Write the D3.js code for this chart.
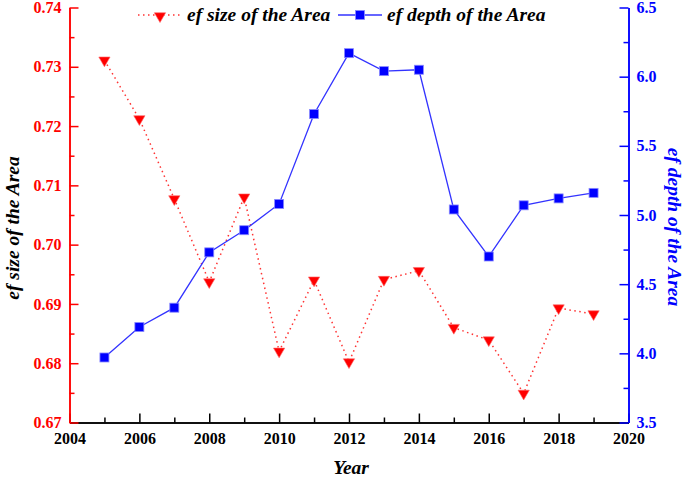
<!DOCTYPE html>
<html>
<head>
<meta charset="utf-8">
<script src="https://cdn.jsdelivr.net/npm/d3@7"></script>
<style>
  body { margin: 0; background: #fff; }
  svg text { font-family: "Liberation Serif", "Times New Roman", serif; font-weight: bold; }
</style>
</head>
<body>
<svg id="chart" width="685" height="478"></svg>
<script>
// data
var years = [2005, 2006, 2007, 2008, 2009, 2010, 2011, 2012, 2013, 2014, 2015, 2016, 2017, 2018, 2019];
var efSize = [0.7311, 0.7212, 0.7077, 0.6937, 0.7080, 0.6820, 0.6940, 0.6802, 0.6941, 0.6956, 0.6860, 0.6839, 0.6749, 0.6893, 0.6883];
var efDepth = [3.97, 4.19, 4.33, 4.73, 4.89, 5.08, 5.73, 6.17, 6.04, 6.05, 5.04, 4.70, 5.07, 5.12, 5.16];
var xTicks = [2004, 2006, 2008, 2010, 2012, 2014, 2016, 2018, 2020];
var leftTicks = [0.67, 0.68, 0.69, 0.70, 0.71, 0.72, 0.73, 0.74];
var rightTicks = [3.5, 4.0, 4.5, 5.0, 5.5, 6.0, 6.5];

var svg = d3.select('#chart');
// plot box edges (note: "top" is taken by window.top)
var pLeft = 69.5, pRight = 628.5, pTop = 7.5, pBottom = 422.5;
var red = '#ff0000', blue = '#0000ff';

var x = d3.scaleLinear().domain([2004, 2020]).range([pLeft, pRight]);
var yL = d3.scaleLinear().domain([0.67, 0.74]).range([pBottom, pTop]);
var yR = d3.scaleLinear().domain([3.5, 6.5]).range([pBottom, pTop]);

function styleAxis(g, color) {
    g.selectAll('path, line').attr('stroke', color).attr('stroke-width', 1.5);
    g.selectAll('text').attr('fill', color).style('font-size', '16px')
        .style('font-family', '"Liberation Serif", serif').style('font-weight', 'bold');
}

// bottom axis, ticks pointing in
var gx = svg.append('g').attr('transform', 'translate(0,' + pBottom + ')');
gx.call(d3.axisBottom(x).tickValues(d3.range(2005, 2020, 2)).tickSizeInner(-5).tickSizeOuter(0).tickFormat(''));
gx.call(function(g){ styleAxis(g, '#000'); });
var gx2 = svg.append('g').attr('transform', 'translate(0,' + pBottom + ')');
gx2.call(d3.axisBottom(x).tickValues(xTicks).tickSizeInner(-9).tickSizeOuter(0).tickPadding(10).tickFormat(d3.format('d')));
gx2.call(function(g){ styleAxis(g, '#000'); });

// left axis (red)
var gl = svg.append('g').attr('transform', 'translate(' + pLeft + ',0)');
gl.call(d3.axisLeft(yL).tickValues(d3.range(0.675, 0.74, 0.01)).tickSizeInner(-5).tickSizeOuter(0).tickFormat(''));
gl.call(function(g){ styleAxis(g, red); });
var gl2 = svg.append('g').attr('transform', 'translate(' + pLeft + ',0)');
gl2.call(d3.axisLeft(yL).tickValues(leftTicks).tickSizeInner(-9).tickSizeOuter(0).tickPadding(8).tickFormat(d3.format('.2f')));
gl2.call(function(g){ styleAxis(g, red); });

// right axis (blue)
var gr = svg.append('g').attr('transform', 'translate(' + pRight + ',0)');
gr.call(d3.axisRight(yR).tickValues(d3.range(3.75, 6.5, 0.5)).tickSizeInner(-5).tickSizeOuter(0).tickFormat(''));
gr.call(function(g){ styleAxis(g, blue); });
var gr2 = svg.append('g').attr('transform', 'translate(' + pRight + ',0)');
gr2.call(d3.axisRight(yR).tickValues(rightTicks).tickSizeInner(-9).tickSizeOuter(0).tickPadding(8).tickFormat(d3.format('.1f')));
gr2.call(function(g){ styleAxis(g, blue); });

// axis titles
svg.append('text').attr('transform', 'translate(19,228) rotate(-90)')
    .attr('text-anchor', 'middle').style('font-style', 'italic').style('font-size', '19.5px')
    .attr('fill', '#000').text('ef size of the Area');
svg.append('text').attr('transform', 'translate(668,227) rotate(90)')
    .attr('text-anchor', 'middle').style('font-style', 'italic').style('font-size', '19.5px')
    .attr('fill', blue).text('ef depth of the Area');
svg.append('text').attr('x', 351).attr('y', 474)
    .attr('text-anchor', 'middle').style('font-style', 'italic').style('font-size', '19.5px')
    .attr('fill', '#000').text('Year');

// series lines
var sizeLine = d3.line().x(function(d, i){ return x(years[i]); }).y(function(d){ return yL(d); });
var depthLine = d3.line().x(function(d, i){ return x(years[i]); }).y(function(d){ return yR(d); });

svg.append('path').datum(efSize).attr('d', sizeLine)
    .attr('fill', 'none').attr('stroke', '#ff3333').attr('stroke-width', 1.5)
    .attr('stroke-dasharray', '1.5,3.5');
svg.append('path').datum(efDepth).attr('d', depthLine)
    .attr('fill', 'none').attr('stroke', '#3333ff').attr('stroke-width', 1.3);

// markers
var tri = d3.symbol().type(d3.symbolTriangle).size(55);
svg.selectAll('.tri').data(efSize).enter().append('path')
    .attr('class', 'tri')
    .attr('d', tri)
    .attr('transform', function(d, i){ return 'translate(' + x(years[i]) + ',' + yL(d) + ') rotate(180)'; })
    .attr('fill', red).attr('stroke', '#ff6666').attr('stroke-width', 0.6);

svg.selectAll('.sq').data(efDepth).enter().append('rect')
    .attr('class', 'sq')
    .attr('x', function(d, i){ return x(years[i]) - 4.5; })
    .attr('y', function(d){ return yR(d) - 4.5; })
    .attr('width', 9).attr('height', 9)
    .attr('fill', blue).attr('stroke', '#8888ff').attr('stroke-width', 0.8);

// legend
var leg = svg.append('g');
leg.append('line').attr('x1', 138).attr('x2', 182).attr('y1', 15).attr('y2', 15)
    .attr('stroke', '#ff3333').attr('stroke-width', 1.5).attr('stroke-dasharray', '1.5,3.5');
leg.append('path').attr('d', tri).attr('transform', 'translate(160,16) rotate(180)')
    .attr('fill', red).attr('stroke', '#ff6666').attr('stroke-width', 0.6);
leg.append('text').attr('x', 187).attr('y', 21).style('font-style', 'italic').style('font-size', '19.5px')
    .attr('fill', '#000').text('ef size of the Area');
leg.append('line').attr('x1', 338).attr('x2', 382).attr('y1', 15).attr('y2', 15)
    .attr('stroke', '#3333ff').attr('stroke-width', 1.3);
leg.append('rect').attr('x', 355.5).attr('y', 10.5).attr('width', 9).attr('height', 9)
    .attr('fill', blue).attr('stroke', '#8888ff').attr('stroke-width', 0.8);
leg.append('text').attr('x', 387).attr('y', 21).style('font-style', 'italic').style('font-size', '19.5px')
    .attr('fill', '#000').text('ef depth of the Area');
</script>
</body>
</html>
